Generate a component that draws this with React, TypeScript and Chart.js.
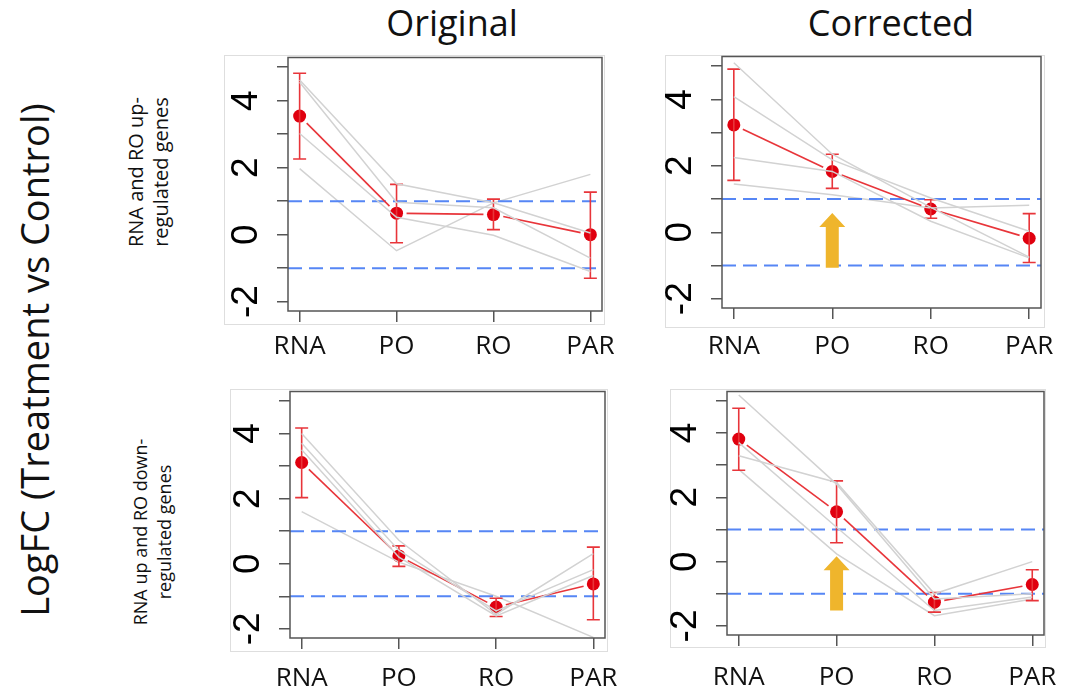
import React, { useEffect, useRef } from 'react';
import { Chart, registerables } from 'chart.js';

Chart.register(...registerables);

// ---------- data ----------
const CATEGORIES = ['RNA', 'PO', 'RO', 'PAR'];
const X_POS = [1, 2, 3, 4];
const Y_TICKS = [-2, -1, 0, 1, 2, 3, 4, 5];
const THRESHOLDS = [1, -1];
const COLUMN_TITLES = ['Original', 'Corrected'];
const ROW_LABELS = [
  ['RNA and RO up-', 'regulated genes'],
  ['RNA up and RO down-', 'regulated genes'],
];
const Y_TITLE = 'LogFC (Treatment vs Control)';

// Original, RNA and RO up-regulated genes
const ORIG_UP_GENES = [
  [4.62, 1.52, 0.95, 0.05],
  [4.55, 0.97, 0.8, -0.7],
  [3.02, 0.52, -0.02, -1.1],
  [1.97, -0.48, 0.95, 1.8],
];
const ORIG_UP_MEAN = [3.54, 0.64, 0.6, 0.0];
const ORIG_UP_LOW = [2.26, -0.24, 0.15, -1.3];
const ORIG_UP_HIGH = [4.82, 1.5, 1.06, 1.27];

// Corrected, RNA and RO up-regulated genes
const CORR_UP_GENES = [
  [5.1, 2.35, 0.75, -0.75],
  [4.08, 2.18, 1.03, 0.03],
  [2.25, 1.83, 0.33, -0.77],
  [1.45, 1.13, 0.73, 0.81],
];
const CORR_UP_MEAN = [3.23, 1.83, 0.7, -0.18];
const CORR_UP_LOW = [1.56, 1.32, 0.42, -0.91];
const CORR_UP_HIGH = [4.91, 2.35, 0.98, 0.56];
const CORR_UP_ARROW = [-1.07, 0.58]; // from, to (at PO)

// Original, RNA up and RO down-regulated genes
const ORIG_DOWN_GENES = [
  [4.0, 0.72, -1.55, 0.31],
  [3.7, 0.41, -1.45, -0.18],
  [3.5, 0.2, -1.6, -0.36],
  [1.6, 0.05, -1.0, -2.26],
];
const ORIG_DOWN_MEAN = [3.11, 0.24, -1.33, -0.62];
const ORIG_DOWN_LOW = [2.03, -0.08, -1.62, -1.72];
const ORIG_DOWN_HIGH = [4.17, 0.55, -1.06, 0.51];

// Corrected, RNA up and RO down-regulated genes
const CORR_DOWN_GENES = [
  [5.18, 2.41, -1.16, -1.0],
  [3.29, 2.46, -1.0, 0.0],
  [3.7, 1.07, -1.52, -1.1],
  [2.87, 0.24, -1.68, -1.16],
];
const CORR_DOWN_MEAN = [3.81, 1.55, -1.26, -0.71];
const CORR_DOWN_LOW = [2.84, 0.59, -1.57, -1.21];
const CORR_DOWN_HIGH = [4.77, 2.51, -0.96, -0.25];
const CORR_DOWN_ARROW = [-1.52, 0.17];

const X_MIN = 0.88;
const X_MAX = 4.12;
const Y_MIN = -2.28;
const Y_MAX = 5.29;

// ---------- styles ----------
const GRAY = '#d2d2d2';
const RED_LINE = '#e8353a';
const RED_PT = '#e0000f';
const BLUE = '#5686f5';
const ARROW = '#efb52c';
const AXIS = '#555555';
const TEXT_FONT = '"Open Sans", "Noto Sans", sans-serif';
const TICK_FONT = '"Liberation Sans", Arial, sans-serif';

type Box = { L: number; R: number; T: number; B: number };
type Frame = { l: number; t: number; r: number; b: number };
type PanelDef = {
  genes: number[][];
  mean: number[];
  low: number[];
  high: number[];
  arrow: number[] | null;
  box: Box;
  frame: Frame;
  labelPad: number;
};

const PANELS: PanelDef[] = [
  {
    genes: ORIG_UP_GENES, mean: ORIG_UP_MEAN, low: ORIG_UP_LOW, high: ORIG_UP_HIGH, arrow: null,
    box: { L: 288, R: 602, T: 57, B: 311 }, frame: { l: 224, t: 55, r: 605, b: 325 }, labelPad: 9,
  },
  {
    genes: CORR_UP_GENES, mean: CORR_UP_MEAN, low: CORR_UP_LOW, high: CORR_UP_HIGH, arrow: CORR_UP_ARROW,
    box: { L: 722, R: 1041, T: 56, B: 308 }, frame: { l: 665, t: 55, r: 1045, b: 328 }, labelPad: 12,
  },
  {
    genes: ORIG_DOWN_GENES, mean: ORIG_DOWN_MEAN, low: ORIG_DOWN_LOW, high: ORIG_DOWN_HIGH, arrow: null,
    box: { L: 290, R: 605, T: 391, B: 638 }, frame: { l: 230, t: 389, r: 608, b: 652 }, labelPad: 14,
  },
  {
    genes: CORR_DOWN_GENES, mean: CORR_DOWN_MEAN, low: CORR_DOWN_LOW, high: CORR_DOWN_HIGH, arrow: CORR_DOWN_ARROW,
    box: { L: 727, R: 1044, T: 391, B: 635 }, frame: { l: 670, t: 389, r: 1046, b: 648 }, labelPad: 16,
  },
];

function makePlugin(p: PanelDef) {
  return {
    id: 'panelDecor',
    afterDatasetDraw(chart: any, args: any) {
      if (args.index !== p.genes.length - 1) return;
      const { ctx, chartArea, scales } = chart;
      const { left, right, top, bottom } = chartArea;
      const x = scales.x;
      const y = scales.y;
      ctx.save();
      ctx.beginPath();
      ctx.rect(left, top, right - left, bottom - top);
      ctx.clip();
      // threshold lines
      ctx.strokeStyle = BLUE;
      ctx.lineWidth = 2;
      ctx.setLineDash([14, 7]);
      THRESHOLDS.forEach((t) => {
        const py = y.getPixelForValue(t);
        ctx.beginPath();
        ctx.moveTo(left, py);
        ctx.lineTo(right, py);
        ctx.stroke();
      });
      ctx.setLineDash([]);
      // mean connector (R type "b": gaps around points)
      ctx.strokeStyle = RED_LINE;
      ctx.lineWidth = 1.6;
      const gap = 10;
      for (let i = 0; i < X_POS.length - 1; i++) {
        const x0 = x.getPixelForValue(X_POS[i]);
        const y0 = y.getPixelForValue(p.mean[i]);
        const x1 = x.getPixelForValue(X_POS[i + 1]);
        const y1 = y.getPixelForValue(p.mean[i + 1]);
        const d = Math.hypot(x1 - x0, y1 - y0);
        if (d <= 2 * gap) continue;
        const ux = (x1 - x0) / d;
        const uy = (y1 - y0) / d;
        ctx.beginPath();
        ctx.moveTo(x0 + ux * gap, y0 + uy * gap);
        ctx.lineTo(x1 - ux * gap, y1 - uy * gap);
        ctx.stroke();
      }
      // error bars
      const cap = 6.5;
      X_POS.forEach((xv, i) => {
        const px = x.getPixelForValue(xv);
        const pl = y.getPixelForValue(p.low[i]);
        const ph = y.getPixelForValue(p.high[i]);
        ctx.beginPath();
        ctx.moveTo(px, pl);
        ctx.lineTo(px, ph);
        ctx.moveTo(px - cap, pl);
        ctx.lineTo(px + cap, pl);
        ctx.moveTo(px - cap, ph);
        ctx.lineTo(px + cap, ph);
        ctx.stroke();
      });
      ctx.restore();
    },
    afterDraw(chart: any) {
      const { ctx, chartArea, scales } = chart;
      const { left, right, top, bottom } = chartArea;
      ctx.save();
      ctx.strokeStyle = AXIS;
      ctx.lineWidth = 1.5;
      ctx.strokeRect(left, top, right - left, bottom - top);
      if (p.arrow) {
        const px = scales.x.getPixelForValue(X_POS[1]);
        const yb = scales.y.getPixelForValue(p.arrow[0]);
        const yt = scales.y.getPixelForValue(p.arrow[1]);
        const sw = 6.5;
        const hw = 13;
        const hh = 14;
        ctx.fillStyle = ARROW;
        ctx.beginPath();
        ctx.moveTo(px - sw, yb);
        ctx.lineTo(px - sw, yt + hh);
        ctx.lineTo(px - hw, yt + hh);
        ctx.lineTo(px, yt);
        ctx.lineTo(px + hw, yt + hh);
        ctx.lineTo(px + sw, yt + hh);
        ctx.lineTo(px + sw, yb);
        ctx.closePath();
        ctx.fill();
      }
      ctx.restore();
    },
  };
}

function Panel({ p }: { p: PanelDef }) {
  const ref = useRef<HTMLCanvasElement | null>(null);
  const cLeft = p.frame.l - 6;
  const cTop = p.box.T - 6;
  const cRight = Math.min(p.box.R + 34, 1066);
  const cBottom = p.box.B + 62;
  const w = cRight - cLeft;
  const h = cBottom - cTop;

  useEffect(() => {
    if (!ref.current) return;
    const yw = p.box.L - cLeft;
    const xh = cBottom - p.box.B;
    const grid = {
      drawOnChartArea: false,
      drawTicks: true,
      tickLength: 11,
      color: AXIS,
      lineWidth: 1.5,
    };
    const datasets: any[] = p.genes.map((g) => ({
      type: 'line',
      data: X_POS.map((xv, i) => ({ x: xv, y: g[i] })),
      borderColor: GRAY,
      borderWidth: 1.5,
      pointRadius: 0,
      fill: false,
      tension: 0,
    }));
    datasets.push({
      type: 'line',
      data: X_POS.map((xv, i) => ({ x: xv, y: p.mean[i] })),
      showLine: false,
      pointRadius: 6.5,
      pointBackgroundColor: RED_PT,
      pointBorderColor: RED_PT,
      pointBorderWidth: 0,
      borderColor: RED_PT,
    });
    const chart = new Chart(ref.current, {
      type: 'line',
      data: { datasets },
      options: {
        animation: false,
        responsive: false,
        maintainAspectRatio: false,
        devicePixelRatio: 1,
        events: [],
        layout: { padding: { top: p.box.T - cTop, right: cRight - p.box.R, left: 0, bottom: 0 } },
        plugins: { legend: { display: false }, tooltip: { enabled: false }, title: { display: false } },
        scales: {
          x: {
            type: 'linear',
            min: X_MIN,
            max: X_MAX,
            afterBuildTicks: (s: any) => {
              s.ticks = X_POS.map((v) => ({ value: v }));
            },
            afterFit: (s: any) => {
              s.height = xh;
              s.paddingLeft = 0;
              s.paddingRight = 0;
            },
            grid,
            border: { display: false },
            ticks: {
              callback: (v: any) => {
                const i = X_POS.indexOf(Number(v));
                return i >= 0 ? CATEGORIES[i] : '';
              },
              font: { family: TEXT_FONT, size: 26 },
              color: '#111111',
              padding: p.labelPad,
              autoSkip: false,
              minRotation: 0,
              maxRotation: 0,
            },
          },
          y: {
            type: 'linear',
            min: Y_MIN,
            max: Y_MAX,
            afterBuildTicks: (s: any) => {
              s.ticks = Y_TICKS.map((v) => ({ value: v }));
            },
            afterFit: (s: any) => {
              s.width = yw;
              s.paddingTop = 0;
              s.paddingBottom = 0;
            },
            grid,
            border: { display: false },
            ticks: {
              callback: (v: any) => (Number(v) % 2 === 0 ? String(v) : ''),
              font: { family: TICK_FONT, size: 37 },
              color: '#000000',
              minRotation: 90,
              maxRotation: 90,
              crossAlign: 'center',
              padding: 14,
              autoSkip: false,
            },
          },
        },
      } as any,
      plugins: [makePlugin(p)],
    } as any);
    return () => chart.destroy();
  }, []);

  return (
    <>
      <div
        style={{
          position: 'absolute',
          left: p.frame.l,
          top: p.frame.t,
          width: p.frame.r - p.frame.l,
          height: p.frame.b - p.frame.t,
          border: '1px solid #dedede',
          boxSizing: 'border-box',
        }}
      />
      <canvas
        ref={ref}
        width={w}
        height={h}
        style={{ position: 'absolute', left: cLeft, top: cTop, width: w, height: h }}
      />
    </>
  );
}

function Rotated({ cx, cy, size, lines, lh }: { cx: number; cy: number; size: number; lines: string[]; lh: number }) {
  return (
    <div
      style={{
        position: 'absolute',
        left: cx,
        top: cy,
        transform: 'translate(-50%, -50%) rotate(-90deg)',
        fontFamily: TEXT_FONT,
        fontSize: size,
        lineHeight: `${lh}px`,
        whiteSpace: 'nowrap',
        textAlign: 'center',
        color: '#111',
      }}
    >
      {lines.map((l, i) => (
        <div key={i}>{l}</div>
      ))}
    </div>
  );
}

export default function App() {
  return (
    <div
      style={{
        position: 'fixed',
        left: 0,
        top: 0,
        width: 1066,
        height: 689,
        overflow: 'hidden',
        background: '#ffffff',
      }}
    >
      {COLUMN_TITLES.map((t, i) => (
        <div
          key={t}
          style={{
            position: 'absolute',
            left: i === 0 ? 452 : 891,
            top: 5,
            transform: 'translateX(-50%)',
            fontFamily: TEXT_FONT,
            fontSize: 36,
            lineHeight: '36px',
            whiteSpace: 'nowrap',
            color: '#111',
          }}
        >
          {t}
        </div>
      ))}
      <Rotated cx={34} cy={360} size={38} lines={[Y_TITLE]} lh={44} />
      <Rotated cx={148} cy={172} size={20} lines={ROW_LABELS[0]} lh={25} />
      <Rotated cx={152} cy={532} size={18} lines={ROW_LABELS[1]} lh={24} />
      {PANELS.map((p, i) => (
        <Panel key={i} p={p} />
      ))}
    </div>
  );
}
